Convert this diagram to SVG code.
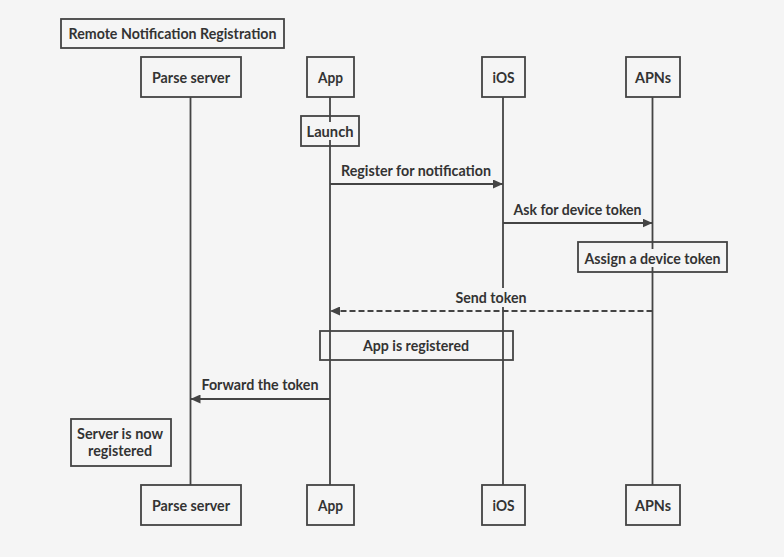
<svg xmlns="http://www.w3.org/2000/svg" width="784" height="557" viewBox="0 0 784 557">
<defs>
<style>
.box{fill:#f5f5f5;stroke:#444;stroke-width:1.8}
.note{fill:none;stroke:#444;stroke-width:1.8}
.life{stroke:#444;stroke-width:1.8;fill:none}
.msg{stroke:#444;stroke-width:1.8;fill:none;marker-end:url(#ah)}
.dash{stroke-dasharray:6 3}
.bg{fill:#f5f5f5}
text{font-family:Lato,"Liberation Sans",sans-serif;font-weight:bold;font-size:15px;fill:#333;text-anchor:middle}
</style>
<marker id="ah" markerWidth="10" markerHeight="9" refX="10" refY="4.5" orient="auto" markerUnits="userSpaceOnUse">
<path d="M0,0 L10,4.5 L0,9 Z" fill="#444"/>
</marker>
</defs>
<rect width="784" height="557" fill="#f5f5f5"/>
<g id="title">
<rect class="box" x="61" y="19" width="223" height="29"/>
<text x="172.5" y="39" textLength="208" lengthAdjust="spacingAndGlyphs">Remote Notification Registration</text>
</g>
<g id="lifelines">
<line class="life" x1="190.5" y1="97" x2="190.5" y2="485"/>
<line class="life" x1="330" y1="97" x2="330" y2="485"/>
<line class="life" x1="503" y1="97" x2="503" y2="485"/>
<line class="life" x1="652.5" y1="97" x2="652.5" y2="485"/>
</g>
<g id="parse-top"><rect class="box" x="141" y="57" width="100" height="40"/><text x="191" y="83" textLength="78" lengthAdjust="spacingAndGlyphs">Parse server</text></g>
<g id="app-top"><rect class="box" x="307" y="57" width="47" height="40"/><text x="330.5" y="83" textLength="25" lengthAdjust="spacingAndGlyphs">App</text></g>
<g id="ios-top"><rect class="box" x="482" y="57" width="43" height="40"/><text x="503.5" y="83" textLength="22" lengthAdjust="spacingAndGlyphs">iOS</text></g>
<g id="apns-top"><rect class="box" x="626" y="57" width="54" height="40"/><text x="653" y="83" textLength="36" lengthAdjust="spacingAndGlyphs">APNs</text></g>
<g id="parse-bottom"><rect class="box" x="141" y="485" width="100" height="40"/><text x="191" y="511" textLength="78" lengthAdjust="spacingAndGlyphs">Parse server</text></g>
<g id="app-bottom"><rect class="box" x="307" y="485" width="47" height="40"/><text x="330.5" y="511" textLength="25" lengthAdjust="spacingAndGlyphs">App</text></g>
<g id="ios-bottom"><rect class="box" x="482" y="485" width="43" height="40"/><text x="503.5" y="511" textLength="22" lengthAdjust="spacingAndGlyphs">iOS</text></g>
<g id="apns-bottom"><rect class="box" x="626" y="485" width="54" height="40"/><text x="653" y="511" textLength="36" lengthAdjust="spacingAndGlyphs">APNs</text></g>
<g id="launch"><rect class="note" x="301" y="116" width="58" height="30"/><rect class="bg" x="305" y="122" width="50" height="18"/><text x="330" y="136.5" textLength="47" lengthAdjust="spacingAndGlyphs">Launch</text></g>
<g id="assign"><rect class="note" x="578" y="242" width="149" height="30"/><rect class="bg" x="582" y="249" width="141" height="18"/><text x="652.5" y="263.5" textLength="136" lengthAdjust="spacingAndGlyphs">Assign a device token</text></g>
<g id="registered"><rect class="note" x="320" y="331" width="193" height="29"/><text x="416" y="350.5" textLength="106" lengthAdjust="spacingAndGlyphs">App is registered</text></g>
<g id="server-registered"><rect class="note" x="71" y="419" width="100" height="47"/><text x="120" y="438.5" textLength="86" lengthAdjust="spacingAndGlyphs">Server is now</text><text x="120" y="456" textLength="64" lengthAdjust="spacingAndGlyphs">registered</text></g>
<g id="connectors">
<line class="msg" x1="330" y1="184" x2="503" y2="184"/>
<text x="416" y="176" textLength="150" lengthAdjust="spacingAndGlyphs">Register for notification</text>
<line class="msg" x1="503" y1="223" x2="652.5" y2="223"/>
<text x="577.5" y="215" textLength="128" lengthAdjust="spacingAndGlyphs">Ask for device token</text>
<rect class="bg" x="453" y="288" width="76" height="19"/>
<line class="msg dash" x1="652.5" y1="311" x2="330" y2="311"/>
<text x="491" y="302.5" textLength="71" lengthAdjust="spacingAndGlyphs">Send token</text>
<line class="msg" x1="330" y1="399" x2="190.5" y2="399"/>
<text x="260" y="390" textLength="117" lengthAdjust="spacingAndGlyphs">Forward the token</text>
</g>
</svg>
